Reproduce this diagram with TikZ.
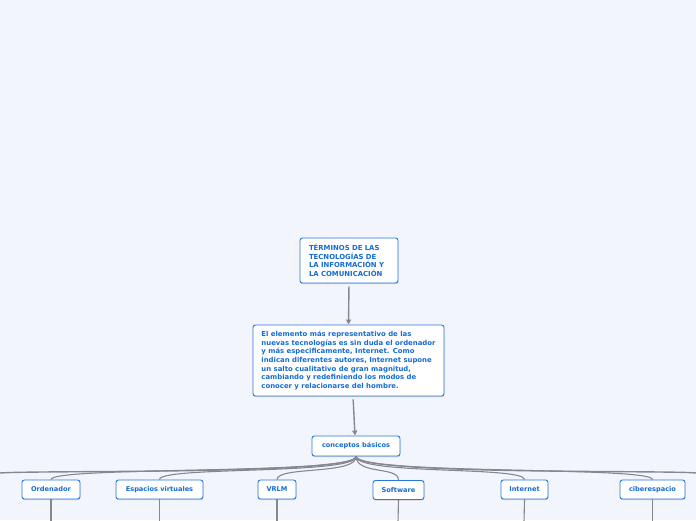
\documentclass[tikz,border=0pt]{standalone}
\usepackage{fontspec}
\setmainfont{DejaVu Sans}
\usetikzlibrary{arrows.meta,shadows}
\pgfdeclarelayer{back}
\pgfdeclarelayer{conns}
\pgfsetlayers{back,conns,main}
\definecolor{bgc}{RGB}{243,245,253}
\definecolor{boxc}{RGB}{38,120,222}
\definecolor{txtc}{RGB}{22,108,210}
\definecolor{linec}{RGB}{135,135,145}
\tikzset{
  box/.style={draw=boxc, line width=0.9pt, fill=white, rounded corners=2.5pt,
    text=txtc, font=\bfseries\fontsize{6.9}{8.6}\selectfont, inner sep=0pt,
    drop shadow={shadow xshift=0.3pt, shadow yshift=-1.2pt, opacity=0.25, fill=black!60}},
  small/.style={font=\bfseries\fontsize{6.6}{8}\selectfont},
  conn/.style={draw=linec, line width=1.4pt},
  thin conn/.style={draw=linec, line width=1.1pt},
  arr/.style={conn, -{Triangle[width=5pt,length=5pt]}},
}
\begin{document}
\begin{tikzpicture}[x=1pt,y=-1pt]
\begin{pgfonlayer}{back}
\fill[bgc] (0,0) rectangle (696,520);
\end{pgfonlayer}
\useasboundingbox (0,0) rectangle (696,520);
\clip (0,0) rectangle (696,520);

\node[box, minimum width=98pt, minimum height=45pt, text width=80pt, align=left] (title) at (349,260.5)
  {TÉRMINOS DE LAS\\TECNOLOGÍAS DE\\LA INFORMACIÓN Y\\LA COMUNICACIÓN};
\node[box, minimum width=191pt, minimum height=71pt, align=left] (desc) at (348.5,360.5)
  {El elemento más representativo de las\\nuevas tecnologías es sin duda el ordenador\\y más especificamente, Internet. Como\\indican diferentes autores, Internet supone\\un salto cualitativo de gran magnitud,\\cambiando y redefiniendo los modos de\\conocer y relacionarse del hombre.};
\node[box, small, minimum width=88pt, minimum height=20pt] (concepts) at (356,446) {conceptos básicos};

\node[box, small, minimum width=58pt, minimum height=19pt] (ord) at (51,489.5) {Ordenador};
\node[box, small, minimum width=87pt, minimum height=19pt] (esp) at (159.5,489.5) {Espacios virtuales};
\node[box, small, minimum width=38pt, minimum height=19pt] (vrlm) at (277,489.5) {VRLM};
\node[box, small, minimum width=51pt, minimum height=19pt] (soft) at (398.5,490) {Software};
\node[box, small, minimum width=47pt, minimum height=19pt] (inet) at (524.5,489.5) {Internet};
\node[box, small, minimum width=65pt, minimum height=19pt] (cyber) at (652.5,489.5) {ciberespacio};

\coordinate (offL) at (0,473);
\coordinate (offR) at (696,473);
\coordinate (dOrd) at (51,522);
\coordinate (dEsp) at (159.5,522);
\coordinate (dVrlm) at (277,522);
\coordinate (dSoft) at (398,522);
\coordinate (dInet) at (524,522);
\coordinate (dCyber) at (652.5,522);

\draw[arr, shorten <=3pt] (title.south) -- (desc.north);
\draw[arr, shorten <=3pt] ([xshift=4.5pt]desc.south) -- ([xshift=-1pt]concepts.north);

\begin{pgfonlayer}{conns}
\draw[conn] (concepts.south) .. controls (357,475) and (40,470) .. (offL);
\draw[conn] (concepts.south) .. controls (357,475) and (670,470) .. (offR);
\draw[thin conn] (concepts.south) .. controls (357,475) and (51,466) .. (ord.north);
\draw[thin conn] (concepts.south) .. controls (357,475) and (159.5,466) .. (esp.north);
\draw[thin conn] (concepts.south) .. controls (357,475) and (277,466) .. (vrlm.north);
\draw[thin conn] (concepts.south) .. controls (357,475) and (398.5,466) .. (soft.north);
\draw[thin conn] (concepts.south) .. controls (357,475) and (524.5,466) .. (inet.north);
\draw[thin conn] (concepts.south) .. controls (357,475) and (652.5,466) .. (cyber.north);
\draw[thin conn] (ord.south) -- (dOrd);
\draw[thin conn] (esp.south) -- (dEsp);
\draw[thin conn] (vrlm.south) -- (dVrlm);
\draw[thin conn] (soft.south) -- (dSoft);
\draw[thin conn] (inet.south) -- (dInet);
\draw[thin conn] (cyber.south) -- (dCyber);
\end{pgfonlayer}
\end{tikzpicture}
\end{document}
